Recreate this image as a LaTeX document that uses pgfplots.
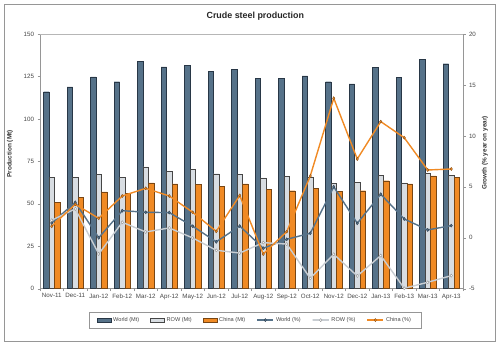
\documentclass[border=0pt]{standalone}
\usepackage{pgfplots}
\pgfplotsset{compat=1.18}
\usepackage{fontspec}
\setmainfont{Liberation Sans}
\definecolor{worldc}{RGB}{86,114,137}
\definecolor{worldl}{RGB}{40,55,70}
\definecolor{rowc}{RGB}{216,221,226}
\definecolor{rowl}{RGB}{70,70,70}
\definecolor{chinac}{RGB}{240,138,36}
\definecolor{chinal}{RGB}{120,70,20}
\definecolor{rowline}{RGB}{200,205,210}
\definecolor{txt}{RGB}{70,70,70}
\definecolor{axc}{RGB}{150,150,150}
\pgfplotsset{
  barlegend/.style={legend image code/.code={\draw[##1] (0pt,-2pt) rectangle (14pt,2pt);}},
  linelegend/.style={legend image code/.code={\draw[##1,mark=none] (0pt,0pt) -- (16pt,0pt); \draw[##1] plot coordinates {(8pt,0pt)};}},
}
\begin{document}
\begin{tikzpicture}
\path[use as bounding box] (0pt,0pt) rectangle (500pt,344pt);
\draw[axc,line width=0.8pt] (4pt,2.5pt) rectangle (495.5pt,340pt);
\node[font=\fontsize{8.9}{10}\selectfont\bfseries,text=black!85] at (255.3pt,327.3pt) {Crude steel production};
\node[font=\fontsize{6.4}{7}\selectfont\bfseries,text=black!80,rotate=90] at (10pt,190pt) {Production (Mt)};
\node[font=\fontsize{6.4}{7}\selectfont\bfseries,text=black!80,rotate=90] at (485pt,191pt) {Growth (\% year on year)};
\begin{axis}[
  at={(40pt,55.3pt)}, anchor=south west,
  scale only axis, width=423pt, height=254.7pt,
  xmin=-0.5, xmax=17.5, ymin=0, ymax=150,
  ytick={0,25,...,150},
  xtick={0,...,17},
  xticklabels={Nov-11,Dec-11,Jan-12,Feb-12,Mar-12,Apr-12,May-12,Jun-12,Jul-12,Aug-12,Sep-12,Oct-12,Nov-12,Dec-12,Jan-13,Feb-13,Mar-13,Apr-13},
  minor xtick={-0.5,0.5,...,17.5},
  major x tick style={draw=none},
  minor x tick style={axc},
  y tick style={axc},
  tick align=outside,
  major tick length=2.5pt, minor tick length=2.5pt,
  axis y line*=left, axis x line*=bottom,
  axis line style={axc},
  ticklabel style={font=\fontsize{6.2}{7}\selectfont, text=txt},
  /pgf/number format/assume math mode=true,
  xticklabel style={yshift=1pt},
  ybar=0pt, bar width=5.5pt,
  legend style={at={(0.508,-0.09)}, anchor=north, draw=axc, font=\fontsize{5.6}{6}\selectfont, text=txt,
    legend columns=6, inner xsep=8pt, inner ysep=3.5pt,
    /tikz/every even column/.append style={column sep=9pt}},
  legend cell align=left,
  clip=false,
]
\addplot[fill=worldc, draw=worldl, line width=0.4pt, barlegend]
 coordinates {(0,116.0)(1,118.8)(2,124.7)(3,121.9)(4,133.7)(5,130.6)(6,131.7)(7,127.8)(8,129.0)(9,123.9)(10,123.9)(11,125.4)(12,121.9)(13,120.6)(14,130.2)(15,124.3)(16,134.9)(17,132.5)};
\addlegendentry{World (Mt)}
\addplot[fill=rowc, draw=rowl, line width=0.4pt, barlegend]
 coordinates {(0,65.4)(1,65.4)(2,67.5)(3,65.6)(4,71.7)(5,69.3)(6,70.3)(7,67.7)(8,67.3)(9,65.2)(10,66.0)(11,65.9)(12,62.1)(13,62.8)(14,66.6)(15,62.3)(16,68.1)(17,66.6)};
\addlegendentry{ROW (Mt)}
\addplot[fill=chinac, draw=chinal, line width=0.4pt, barlegend]
 coordinates {(0,50.7)(1,53.6)(2,57.0)(3,56.2)(4,62.3)(5,61.7)(6,61.3)(7,60.1)(8,61.7)(9,58.7)(10,57.7)(11,58.9)(12,57.4)(13,57.7)(14,63.6)(15,61.8)(16,66.4)(17,65.6)};
\addlegendentry{China (Mt)}
\addlegendimage{worldc, line width=1.4pt, mark=diamond*, mark size=1.6pt, mark options={fill=worldc,draw=worldl,line width=0.3pt}, linelegend}
\addlegendentry{World (\%)}
\addlegendimage{rowline, line width=1.4pt, mark=diamond*, mark size=1.6pt, mark options={fill=white,draw=gray,line width=0.3pt}, linelegend}
\addlegendentry{ROW (\%)}
\addlegendimage{chinac, line width=1.4pt, mark=diamond*, mark size=1.6pt, mark options={fill=chinac,draw=chinal,line width=0.3pt}, linelegend}
\addlegendentry{China (\%)}
\end{axis}
\begin{axis}[
  at={(40pt,55.3pt)}, anchor=south west,
  scale only axis, width=423pt, height=254.7pt,
  xmin=-0.5, xmax=17.5, ymin=-5, ymax=20,
  ytick={-5,0,...,20},
  axis y line*=right, axis x line=none,
  axis line style={axc},
  y tick style={axc}, tick align=outside, major tick length=2.5pt,
  ticklabel style={font=\fontsize{6.2}{7}\selectfont, text=txt},
  /pgf/number format/assume math mode=true,
  clip=false,
]
\draw[axc!70] (axis cs:-0.5,20) -- (axis cs:17.5,20);
\addplot[worldc, line width=1.4pt, mark=diamond*, mark size=1.6pt, mark options={fill=worldc,draw=worldl,line width=0.3pt}]
 coordinates {(0,1.45)(1,3.48)(2,0.0)(3,2.66)(4,2.5)(5,2.47)(6,1.13)(7,-0.4)(8,1.15)(9,-1.03)(10,-0.15)(11,0.44)(12,5.0)(13,1.42)(14,4.27)(15,1.84)(16,0.77)(17,1.19)};
\addplot[rowline, line width=1.4pt, mark=diamond*, mark size=1.6pt, mark options={fill=white,draw=gray,line width=0.3pt}]
 coordinates {(0,1.72)(1,2.83)(2,-1.59)(3,1.52)(4,0.57)(5,0.96)(6,-0.02)(7,-1.23)(8,-1.5)(9,-0.48)(10,-0.62)(11,-3.98)(12,-1.62)(13,-3.75)(14,-1.75)(15,-4.96)(16,-4.37)(17,-3.72)};
\addplot[chinac, line width=1.4pt, mark=diamond*, mark size=1.6pt, mark options={fill=chinac,draw=chinal,line width=0.3pt}]
 coordinates {(0,1.13)(1,3.28)(2,1.91)(3,4.1)(4,4.85)(5,4.1)(6,2.5)(7,0.63)(8,4.15)(9,-1.6)(10,0.6)(11,6.06)(12,13.69)(13,7.73)(14,11.4)(15,9.82)(16,6.65)(17,6.75)};
\end{axis}
\end{tikzpicture}
\end{document}
